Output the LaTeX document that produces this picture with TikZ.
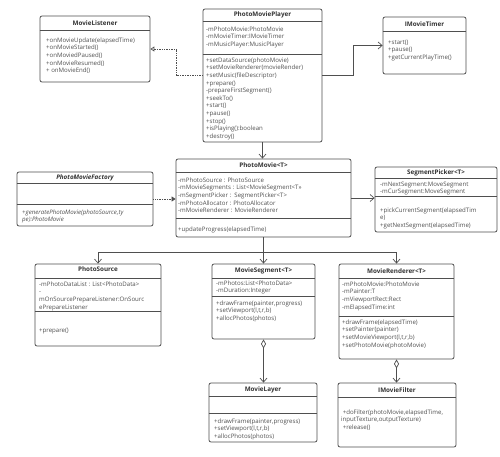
\documentclass[tikz,border=0pt]{standalone}
\usepackage{fontspec}
\setmainfont{Open Sans}
\usetikzlibrary{positioning,arrows.meta,calc}

\definecolor{linec}{HTML}{4F4F4F}
\definecolor{textc}{HTML}{505050}
\definecolor{titlec}{HTML}{333333}

\begin{document}
\begin{tikzpicture}[
  x=1pt, y=-1pt,
  cls/.style={draw=linec, rounded corners=2pt, line width=0.8pt, inner sep=0pt},
  sep/.style={draw=linec, line width=0.8pt},
  ttl/.style={font=\fontsize{6.3}{8}\selectfont\bfseries, text=titlec, inner sep=0pt},
  txt/.style={font=\fontsize{6.1}{7.6}\selectfont, text=textc, align=left, anchor=north west, inner sep=0pt},
  arr/.style={-{Straight Barb[length=4pt, width=7pt]}, draw=linec, line width=0.7pt},
  real/.style={-{Triangle[open, length=4pt, width=5pt]}, draw=linec, line width=0.7pt, densely dotted},
  dep/.style={-{Triangle[length=4pt, width=5pt]}, draw=linec, line width=0.7pt, densely dotted},
  agg/.style={{Diamond[open, length=9pt, width=5pt]}-{Straight Barb[length=4pt, width=7pt]}, draw=linec, line width=0.7pt},
]
\useasboundingbox[fill=white] (0,0) rectangle (500,457);

% top row
\node[cls, minimum width=110pt, minimum height=66pt] (listener) at (95,49) {};
\draw[sep] ([yshift=-15pt]listener.north west) -- ([yshift=-15pt]listener.north east);
\node[ttl] (listener-t) at ([yshift=-7.5pt]listener.north) {MovieListener};
\node[txt] (listener-o) at (46,37.5) {+onMovieUpdate(elapsedTime)\\ +onMovieStarted()\\ +onMoviedPaused()\\ +onMovieResumed()\\ + onMovieEnd()};

\node[cls, minimum width=119pt, minimum height=133pt] (player) at (262.5,75.5) {};
\draw[sep] ([yshift=-13pt]player.north west) -- ([yshift=-13pt]player.north east);
\draw[sep] ([yshift=-46pt]player.north west) -- ([yshift=-46pt]player.north east);
\node[ttl] (player-t) at ([yshift=-6.5pt]player.north) {PhotoMoviePlayer};
\node[txt] (player-a) at (206,26.5) {-mPhotoMovie:PhotoMovie\\ -mMovieTimer:IMovieTimer\\ -mMusicPlayer:MusicPlayer};
\node[txt] (player-o) at (206,57.5) {+setDataSource(photoMovie)\\ +setMovieRenderer(movieRender)\\ +setMusic(fileDescriptor)\\ +prepare()\\ -prepareFirstSegment()\\ +seekTo()\\ +start()\\ +pause()\\ +stop()\\ +isPlaying():boolean\\ +destroy()};

\node[cls, minimum width=83pt, minimum height=57pt] (timer) at (424.5,45.5) {};
\draw[sep] ([yshift=-15pt]timer.north west) -- ([yshift=-15pt]timer.north east);
\node[ttl] (timer-t) at ([yshift=-7.5pt]timer.north) {IMovieTimer};
\node[txt] (timer-o) at (388,39.5) {+start()\\ +pause()\\ +getCurrentPlayTime()};

% middle row
\node[cls, minimum width=136pt, minimum height=54pt] (factory) at (85,199) {};
\draw[sep] ([yshift=-12pt]factory.north west) -- ([yshift=-12pt]factory.north east);
\draw[sep] ([yshift=-33pt]factory.north west) -- ([yshift=-33pt]factory.north east);
\node[ttl, font=\fontsize{6.3}{8}\selectfont\bfseries\itshape] (factory-t) at ([yshift=-6pt]factory.north) {PhotoMovieFactory};
\node[txt, font=\fontsize{6.1}{7.6}\selectfont\itshape] (factory-o) at (22,209.5) {+generatePhotoMovie(photoSource,ty\\ pe):PhotoMovie};

\node[cls, minimum width=175pt, minimum height=78pt] (movie) at (263.5,198) {};
\draw[sep] ([yshift=-14pt]movie.north west) -- ([yshift=-14pt]movie.north east);
\draw[sep] ([yshift=-60pt]movie.north west) -- ([yshift=-60pt]movie.north east);
\node[ttl] (movie-t) at ([yshift=-7pt]movie.north) {PhotoMovie<T>};
\node[txt] (movie-a) at (178,177.5) {-mPhotoSource : PhotoSource\\ -mMovieSegments : List<MovieSegment<T>>\\ -mSegmentPicker :\ \ SegmentPicker<T>\\ -mPhotoAllocator : PhotoAllocator\\ -mMovieRenderer : MovieRenderer};
\node[txt] (movie-o) at (178,226.5) {+updateProgress(elapsedTime)};

\node[cls, minimum width=122pt, minimum height=65pt] (picker) at (436,199.5) {};
\draw[sep] ([yshift=-12pt]picker.north west) -- ([yshift=-12pt]picker.north east);
\draw[sep] ([yshift=-30pt]picker.north west) -- ([yshift=-30pt]picker.north east);
\node[ttl] (picker-t) at ([yshift=-6pt]picker.north) {SegmentPicker<T>};
\node[txt] (picker-a) at (380,181.5) {-mNextSegment:MoveSegment\\ -mCurSegment:MoveSegment};
\node[txt] (picker-o) at (380,207.5) {+pickCurrentSegment(elapsedTim\\ e)\\ +getNextSegment(elapsedTime)};

% bottom rows
\node[cls, minimum width=126pt, minimum height=82pt] (source) at (98,305) {};
\draw[sep] ([yshift=-15pt]source.north west) -- ([yshift=-15pt]source.north east);
\draw[sep] ([yshift=-48pt]source.north west) -- ([yshift=-48pt]source.north east);
\node[ttl] (source-t) at ([yshift=-6pt]source.north) {PhotoSource};
\node[txt] (source-a) at (39,281.5) {-mPhotoDataList : List<PhotoData>\\ -\\ mOnSourcePrepareListener:OnSourc\\ ePrepareListener};
\node[txt] (source-o) at (39,327.5) {+prepare()};

\node[cls, minimum width=103pt, minimum height=75pt] (segment) at (263.5,301.5) {};
\draw[sep] ([yshift=-15pt]segment.north west) -- ([yshift=-15pt]segment.north east);
\draw[sep] ([yshift=-33pt]segment.north west) -- ([yshift=-33pt]segment.north east);
\node[ttl] (segment-t) at ([yshift=-7.5pt]segment.north) {MovieSegment<T>};
\node[txt] (segment-a) at (216,280.5) {-mPhotos:List<PhotoData>\\ -mDuration:Integer};
\node[txt] (segment-o) at (216,300.5) {+drawFrame(painter,progress)\\ +setViewport(l,t,r,b)\\ +allocPhotos(photos)};

\node[cls, minimum width=115pt, minimum height=95pt] (renderer) at (396.5,311.5) {};
\draw[sep] ([yshift=-15pt]renderer.north west) -- ([yshift=-15pt]renderer.north east);
\draw[sep] ([yshift=-53pt]renderer.north west) -- ([yshift=-53pt]renderer.north east);
\node[ttl] (renderer-t) at ([yshift=-7.5pt]renderer.north) {MovieRenderer<T>};
\node[txt] (renderer-a) at (342,281.5) {-mPhotoMovie:PhotoMovie\\ -mPainter:T\\ -mViewportRect:Rect\\ -mElapsedTime:int};
\node[txt] (renderer-o) at (342,319.5) {+drawFrame(elapsedTime)\\ +setPainter(painter)\\ +setMovieViewport(l,t,r,b)\\ +setPhotoMovie(photoMovie)};

\node[cls, minimum width=108pt, minimum height=59pt] (layer) at (263,412.5) {};
\draw[sep] ([yshift=-14pt]layer.north west) -- ([yshift=-14pt]layer.north east);
\draw[sep] ([yshift=-31pt]layer.north west) -- ([yshift=-31pt]layer.north east);
\node[ttl] (layer-t) at ([yshift=-7pt]layer.north) {MovieLayer};
\node[txt] (layer-o) at (214,418.5) {+drawFrame(painter,progress)\\ +setViewport(l,t,r,b)\\ +allocPhotos(photos)};

\node[cls, minimum width=118pt, minimum height=64pt] (filter) at (397,415) {};
\draw[sep] ([yshift=-15pt]filter.north west) -- ([yshift=-15pt]filter.north east);
\node[ttl] (filter-t) at ([yshift=-7.5pt]filter.north) {IMovieFilter};
\node[txt] (filter-o) at (341,409.5) {\ +doFilter(photoMovie,elapsedTime,\\ inputTexture,outputTexture)\\ \ +release()};

% connectors
\draw[real] (player.west) -- ++(-26,0) |- (listener.east);
\draw[arr] (player.east) -- ++(31,0) |- (timer.west);
\draw[arr] (player.south) -- (player.south |- movie.north);
\draw[dep] (factory.east) -- (factory.east -| movie.west);
\draw[arr] (movie.east) -- (movie.east -| picker.west);

\coordinate (bus) at ($(movie.south)+(0,15)$);
\draw[arr] (movie.south) -- (segment.north);
\draw[arr] (bus) -| (source.north);
\draw[arr] (bus) -| (renderer.north);

\draw[agg] (segment.south) -- (segment.south |- layer.north);
\draw[agg] (renderer.south) -- (renderer.south |- filter.north);
\end{tikzpicture}
\end{document}
